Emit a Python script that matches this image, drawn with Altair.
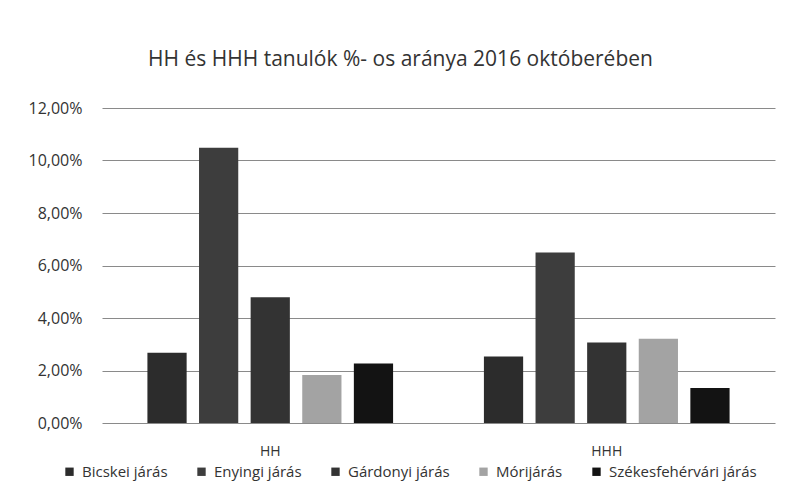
import altair as alt
import pandas as pd

groups = ["HH", "HHH"]
districts = ["Bicskei járás", "Enyingi járás", "Gárdonyi járás", "Mórijárás", "Székesfehérvári járás"]
hh_values = [0.0268, 0.1049, 0.0479, 0.0183, 0.0227]
hhh_values = [0.0253, 0.0650, 0.0307, 0.0321, 0.0133]
colors = ["#2c2c2c", "#3d3d3d", "#333333", "#a3a3a3", "#131313"]

rows = []
for g, vals in zip(groups, [hh_values, hhh_values]):
    for d, v in zip(districts, vals):
        rows.append({"group": g, "district": d, "value": v})
df = pd.DataFrame(rows)

font = "Open Sans"

chart = alt.Chart(df).mark_bar().encode(
    x=alt.X("group:N", sort=groups, title=None,
            scale=alt.Scale(paddingInner=0, paddingOuter=0),
            axis=alt.Axis(labelAngle=0, labelFontSize=14, labelColor="#333",
                          labelFont=font, labelPadding=21, ticks=False,
                          domain=False)),
    xOffset=alt.XOffset("district:N", sort=districts,
                        scale=alt.Scale(paddingInner=0.24, paddingOuter=0.88)),
    y=alt.Y("value:Q", title=None,
            scale=alt.Scale(domain=[0, 0.12]),
            axis=alt.Axis(values=[0, 0.02, 0.04, 0.06, 0.08, 0.10, 0.12],
                          labelExpr="replace(format(datum.value, '.2%'), '.', ',')",
                          labelFontSize=16, labelColor="#333", labelFont=font,
                          labelPadding=20, ticks=False, domain=False,
                          gridColor="#8a8a8a", gridWidth=1)),
    color=alt.Color("district:N", sort=districts,
                    scale=alt.Scale(domain=districts, range=colors),
                    legend=alt.Legend(title=None, orient="none", direction="horizontal",
                                      legendX=-40, legendY=356, columns=5,
                                      symbolType="square", symbolSize=70,
                                      symbolStrokeWidth=0,
                                      labelFontSize=15, labelFont=font,
                                      labelColor="#333", columnPadding=26,
                                      labelOffset=5)),
).properties(
    width=673, height=315,
    autosize=alt.AutoSizeParams(type="none"),
    padding={"left": 94, "top": 100, "right": 3, "bottom": 70},
    title=alt.Title("HH és HHH tanulók %- os aránya 2016 októberében",
                    fontSize=21, font=font, fontWeight="normal", color="#333",
                    anchor="middle", dx=-38, offset=30),
).configure_view(stroke=None)

chart.save("out.html", embed_options={"renderer": "svg", "actions": False})
